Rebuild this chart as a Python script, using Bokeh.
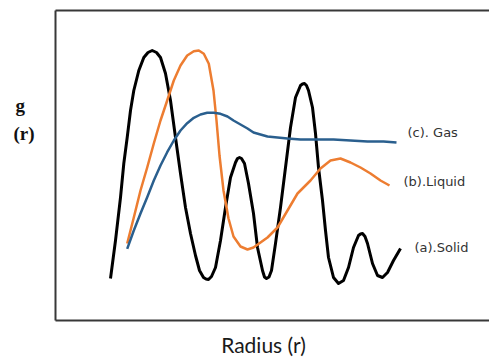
from bokeh.plotting import figure
from bokeh.models import Range1d, LinearAxis, FixedTicker, Label
from bokeh.embed import file_html
from bokeh.resources import INLINE

# Radius (arbitrary units) and g(r) values
solid_r = [5.5, 6.0, 6.5, 6.83, 7.17, 7.5, 7.83, 8.33, 8.83, 9.25, 9.67, 10.1, 10.5, 11.0, 11.5, 12.0,
           12.5, 13.0, 13.5, 14.0, 14.4, 14.8, 15.05, 15.3, 15.6, 16.0, 16.5, 17.0, 17.5, 18.0, 18.2,
           18.4, 18.6, 18.9, 19.3, 19.8, 20.2, 20.7, 20.9, 21.1, 21.35, 21.6, 22.0, 22.5, 23.0, 23.5,
           24.0, 24.5, 24.7, 24.9, 25.1, 25.3, 25.7, 26.0, 26.3, 26.7, 27.0, 27.3, 27.8, 28.3, 28.8,
           29.3, 29.8, 30.3, 30.5, 30.7, 30.95, 31.2, 31.7, 32.2, 32.7, 33.2, 33.8, 34.5]
solid_g = [4.2, 8.0, 12.3, 15.7, 18.3, 21.0, 23.0, 25.0, 26.3, 26.8, 27.0, 26.8, 26.3, 24.7, 22.0, 18.3,
           14.7, 11.3, 8.7, 6.5, 5.0, 4.3, 4.15, 4.1, 4.4, 5.3, 8.0, 11.3, 14.3, 15.8, 16.2,
           16.3, 16.2, 15.7, 13.7, 10.7, 7.3, 5.0, 4.35, 4.2, 4.35, 5.0, 7.7, 11.3, 15.3, 19.3,
           22.3, 23.5, 23.65, 23.7, 23.5, 23.0, 21.3, 18.7, 15.3, 12.0, 9.0, 6.3, 4.3, 3.7, 4.0,
           5.3, 7.3, 8.5, 8.65, 8.7, 8.4, 7.7, 5.7, 4.5, 4.3, 4.8, 6.0, 7.2]

liquid_r = [7.17, 7.83, 8.5, 9.17, 9.83, 10.5, 11.17, 11.83, 12.5, 13.17, 13.83, 14.33, 14.83, 15.33,
            15.8, 16.1, 16.4, 16.8, 17.3, 17.8, 18.5, 19.2, 19.8, 20.5, 21.2, 22.2, 23.2, 24.2, 25.5,
            26.5, 27.5, 28.5, 29.5, 30.5, 31.5, 32.5, 33.4]
liquid_g = [7.7, 10.3, 13.0, 15.3, 17.7, 20.0, 22.0, 24.0, 25.5, 26.5, 26.93, 27.0, 26.67, 25.67,
            23.0, 20.0, 16.5, 13.0, 10.2, 8.4, 7.4, 7.1, 7.3, 7.8, 8.3, 9.3, 11.0, 12.7, 14.0,
            15.2, 16.0, 16.2, 15.8, 15.3, 14.7, 14.0, 13.5]

gas_r = [7.17, 7.83, 8.5, 9.17, 9.83, 10.5, 11.17, 11.83, 12.5, 13.17, 13.83, 14.5, 15.17, 15.83,
         16.5, 17.2, 17.8, 18.5, 19.2, 19.8, 20.5, 21.2, 22.2, 23.2, 24.5, 26.2, 27.8, 29.5, 31.2,
         32.8, 34.1]
gas_g = [7.17, 9.0, 10.7, 12.33, 14.0, 15.5, 16.83, 18.0, 19.0, 19.73, 20.27, 20.6, 20.77, 20.77,
         20.67, 20.4, 20.0, 19.6, 19.2, 18.8, 18.6, 18.4, 18.3, 18.2, 18.1, 18.1, 18.1, 18.0, 17.9,
         17.9, 17.8]

series_labels = ["(c). Gas", "(b).Liquid", "(a).Solid"]
label_r = [35.2, 34.8, 35.9]
label_g = [18.8, 13.9, 7.3]

x_title = "Radius (r)"
x_title_pos = 20.8
y_title_parts = ["g\u00a0\u00a0", "(r)"]
y_title_pos = [21.5, 18.7]

p = figure(width=489, height=359, output_backend="svg", toolbar_location=None,
           x_range=Range1d(0, 43.4), y_range=Range1d(0, 31),
           min_border_left=55, min_border_right=0, min_border_top=10, min_border_bottom=39)
p.outline_line_color = None
p.grid.visible = False
p.background_fill_color = "white"
p.border_fill_color = "white"

frame_col = "#383838"
for ax in [p.xaxis[0], p.yaxis[0]]:
    ax.major_tick_out = 0
    ax.major_tick_in = 0
    ax.minor_tick_out = 0
    ax.minor_tick_in = 0
    ax.axis_line_color = frame_col
    ax.axis_line_width = 2

xa = p.xaxis[0]
xa.ticker = FixedTicker(ticks=[x_title_pos])
xa.major_label_overrides = {x_title_pos: x_title}
xa.major_label_text_font = "Lato"
xa.major_label_text_font_size = "21px"
xa.major_label_text_color = "#1a1a1a"
xa.major_label_standoff = 11

ya = p.yaxis[0]
ya.ticker = FixedTicker(ticks=y_title_pos)
ya.major_label_overrides = {pos: t for pos, t in zip(y_title_pos, y_title_parts)}
ya.major_label_text_font = "Liberation Serif"
ya.major_label_text_font_style = "bold"
ya.major_label_text_font_size = "19px"
ya.major_label_text_color = "#111111"
ya.major_label_standoff = 21

top = LinearAxis(ticker=FixedTicker(ticks=[]), major_tick_out=0, major_tick_in=0,
                 minor_tick_out=0, minor_tick_in=0, major_label_standoff=0,
                 axis_line_color=frame_col, axis_line_width=2)
p.add_layout(top, "above")

p.line(solid_r, solid_g, line_color="black", line_width=3, line_join="round")
p.line(liquid_r, liquid_g, line_color="#ED7D31", line_width=2.5, line_join="round")
p.line(gas_r, gas_g, line_color="#2A5F8E", line_width=2.5, line_join="round")

for t, x, y in zip(series_labels, label_r, label_g):
    p.add_layout(Label(x=x, y=y, text=t, text_font="DejaVu Sans", text_font_size="13px",
                       text_color="#333333", text_baseline="middle", text_align="left"))

open("out.html", "w").write(file_html(p, INLINE))
